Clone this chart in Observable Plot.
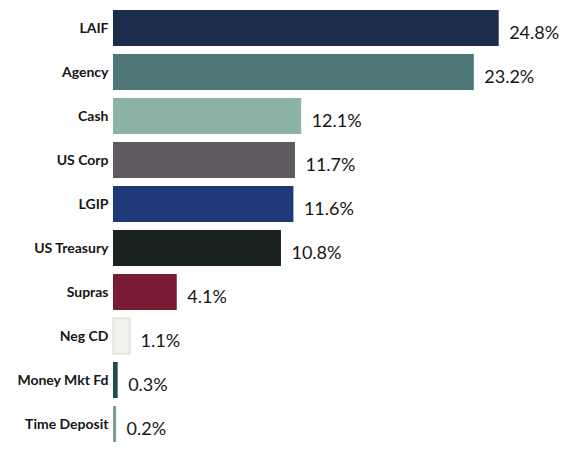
<!DOCTYPE html>
<html>
<head>
<meta charset="utf-8">
<script src="https://cdn.jsdelivr.net/npm/d3@7"></script>
<script src="https://cdn.jsdelivr.net/npm/@observablehq/plot@0.6"></script>
<style>
  html, body { margin: 0; padding: 0; background: #fff; }
  #chart { width: 564px; height: 450px; }
</style>
</head>
<body>
<div id="chart"></div>
<script>
const categories = ["LAIF", "Agency", "Cash", "US Corp", "LGIP", "US Treasury", "Supras", "Neg CD", "Money Mkt Fd", "Time Deposit"];
const values = [24.8, 23.2, 12.1, 11.7, 11.6, 10.8, 4.1, 1.1, 0.3, 0.2];
const colors = ["#1b2d4b", "#4e7877", "#8db3a4", "#5e5a60", "#1d3978", "#1a2121", "#7a1b36", "#f1f0eb", "#1f4e52", "#7d9c96"];

const data = categories.map((c, i) => ({category: c, value: values[i], color: colors[i]}));

const chart = Plot.plot({
  width: 564,
  height: 450,
  marginLeft: 113,
  marginRight: 0,
  marginTop: 3,
  marginBottom: 0,
  style: {fontFamily: "Lato, sans-serif", background: "#fff"},
  x: {domain: [0, 29], axis: null},
  y: {domain: categories, paddingInner: 0.18, paddingOuter: 0.09, label: null, tickSize: 0, tickPadding: 5},
  marks: [
    Plot.axisY({tickSize: 0, tickPadding: 5, fontSize: 14, fontWeight: "bold", fill: "#161616", label: null}),
    Plot.barX(data, {x: "value", y: "category", fill: "color", stroke: d => d.category === "Neg CD" ? "#d8d6cf" : "none", strokeWidth: 1}),
    Plot.text(data, {x: "value", y: "category", text: d => d.value.toFixed(1) + "%", textAnchor: "start", dx: 10, dy: 5, fontSize: 18, fill: "#161616"})
  ]
});
document.getElementById("chart").appendChild(chart);
</script>
</body>
</html>
